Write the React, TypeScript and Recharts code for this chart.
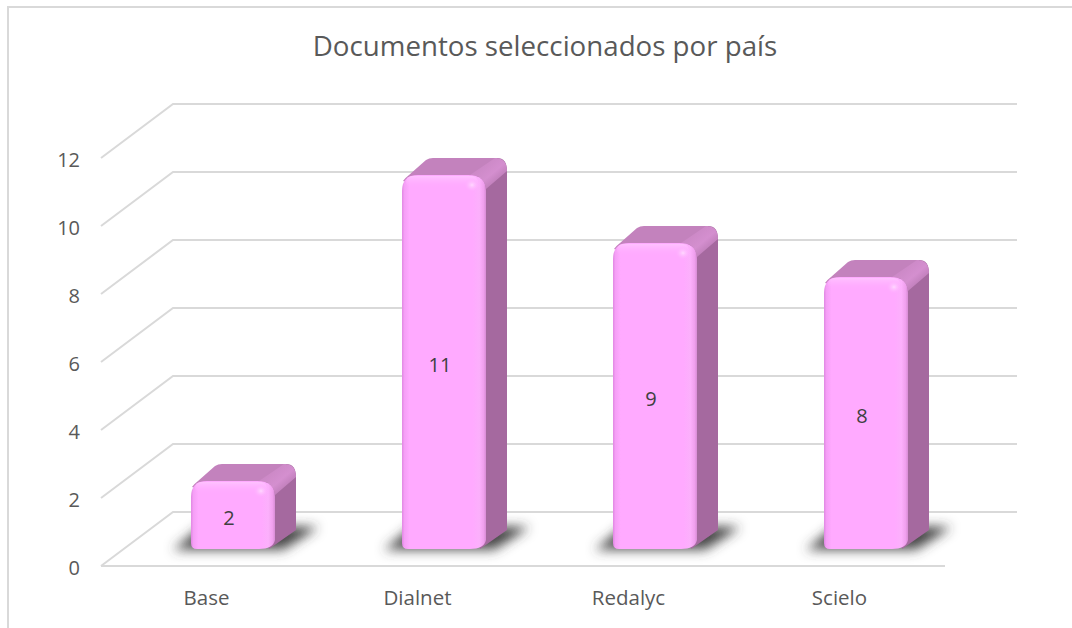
import React from 'react';
import { BarChart, Bar, XAxis, YAxis, CartesianGrid, LabelList } from 'recharts';

const categories = ['Base', 'Dialnet', 'Redalyc', 'Scielo'];
const documentos = [2, 11, 9, 8];
const yTicks = [0, 2, 4, 6, 8, 10, 12];

const data = categories.map((name, i) => ({ name, documentos: documentos[i] }));

const FONT = '"Open Sans", sans-serif';
const TEXT = '#595959';
const GRID = '#d9d9d9';

// pseudo-3D offsets
const WALL_DX = 72;
const WALL_DY = 54;
const BAR_SHIFT_X = 25;
const BAR_SHIFT_Y = 17;
const DEPTH_X = 23;
const DEPTH_Y = 17;

function GridLine(props: any) {
    const { x1, x2, y1, index } = props;
    const wall = `M${x1},${y1}L${x1 + WALL_DX},${y1 - WALL_DY}L${x2 + WALL_DX},${y1 - WALL_DY}`;
    return (
        <g key={`grid-${index}`}>
            <path d={wall} fill="none" stroke={GRID} strokeWidth={2} />
            {y1 > 560 && <line x1={x1} x2={x2} y1={y1} y2={y1} stroke={GRID} strokeWidth={2} />}
        </g>
    );
}

function Bar3D(props: any) {
    const { x, y, width, height } = props;
    const l = x + BAR_SHIFT_X;
    const r = l + width;
    const t = y - BAR_SHIFT_Y;
    const b = y + height - BAR_SHIFT_Y;
    const dx = DEPTH_X;
    const dy = DEPTH_Y;
    const rad = 16;
    const shadow = `M${l - 18},${b + 1}L${l + 10},${b - 22}L${r + dx + 22},${b - 22}L${r + 10},${b + 1}Z`;
    const side = `M${r - 10},${t}L${r - 10 + dx},${t - dy}Q${r + dx},${t - dy} ${r + dx},${t - dy + 13}L${r + dx},${b - dy - 2}L${r - 4},${b}Z`;
    const top = `M${l + 1},${t + 6}Q${l + 3},${t + 3} ${l + 7},${t}L${l + 24},${t - dy + 2}Q${l + 27},${t - dy} ${l + 31},${t - dy}L${r + dx - 10},${t - dy}L${r - 10},${t + 4}L${l + 8},${t + 8}Z`;
    const bevel = `M${r - 14},${t}L${r - 12 + dx},${t - dy}Q${r + dx},${t - dy} ${r + dx},${t - dy + 13}L${r + 2},${t + 14}Q${r},${t} ${r - 14},${t}Z`;
    const front = `M${l},${t + rad}Q${l},${t} ${l + rad},${t}L${r - rad},${t}Q${r + 2},${t} ${r + 2},${t + rad}L${r + 2},${b - 9}Q${r},${b} ${r - 14},${b}L${l + 6},${b}Q${l},${b} ${l},${b - 6}Z`;
    return (
        <g>
            <path d={shadow} fill="url(#floorShadow)" filter="url(#shadowBlur)" />
            <path d={side} fill="#a5699f" />
            <path d={top} fill="#c382bd" />
            <path d={bevel} fill="url(#bevelFill)" />
            <path d={front} fill="url(#frontFill)" />
            <rect x={l + 4} y={t + 1} width={width - 10} height={12} rx={6} fill="url(#topGlow)" />
            <ellipse cx={r - 12} cy={t + 10} rx={8} ry={7} fill="url(#cornerGlow)" />
        </g>
    );
}

function BarValue(props: any) {
    const { x, y, width, height, value } = props;
    return (
        <text
            x={x + width / 2 + BAR_SHIFT_X - 3}
            y={y + height / 2 - BAR_SHIFT_Y + 2}
            textAnchor="middle"
            dominantBaseline="central"
            fontFamily={FONT}
            fontSize={20}
            fill="#404040"
        >
            {value}
        </text>
    );
}

export default function App() {
    return (
        <div style={{ position: 'absolute', left: 0, top: 0, width: 1072, height: 628, background: '#fff', overflow: 'hidden' }}>
            <div style={{ position: 'absolute', left: 7, top: 6, width: 1065, height: 622, borderLeft: `2px solid ${GRID}`, borderTop: `2px solid ${GRID}` }} />
            <div style={{ position: 'absolute', left: 0, top: 27, width: 1090, textAlign: 'center', fontFamily: FONT, fontSize: 27.7, lineHeight: '36px', color: TEXT }}>
                Documentos seleccionados por país
            </div>
            <BarChart
                width={1072}
                height={628}
                data={data}
                margin={{ top: 158, right: 127, bottom: 0, left: 41 }}
                style={{ position: 'absolute', left: 0, top: 0 }}
            >
                <defs>
                    <filter id="shadowBlur" x="-25%" y="-60%" width="150%" height="220%">
                        <feGaussianBlur stdDeviation="6" />
                    </filter>
                    <linearGradient id="floorShadow" x1="0" y1="0" x2="0" y2="1">
                        <stop offset="0%" stopColor="#333" stopOpacity={1} />
                        <stop offset="100%" stopColor="#444" stopOpacity={0.9} />
                    </linearGradient>
                    <linearGradient id="frontFill" x1="0" y1="0" x2="1" y2="0">
                        <stop offset="0%" stopColor="#e088e2" />
                        <stop offset="3%" stopColor="#f59ff6" />
                        <stop offset="9%" stopColor="#ffaaff" />
                        <stop offset="84%" stopColor="#ffaaff" />
                        <stop offset="92%" stopColor="#fcb0fc" />
                        <stop offset="97%" stopColor="#f0a0ee" />
                        <stop offset="100%" stopColor="#d88cd5" />
                    </linearGradient>
                    <linearGradient id="bevelFill" x1="0" y1="0" x2="1" y2="1">
                        <stop offset="0%" stopColor="#c382bd" />
                        <stop offset="55%" stopColor="#d48fcf" />
                        <stop offset="100%" stopColor="#a5699f" />
                    </linearGradient>
                    <linearGradient id="topGlow" x1="0" y1="0" x2="0" y2="1">
                        <stop offset="0%" stopColor="#ffc4ff" stopOpacity={0.9} />
                        <stop offset="100%" stopColor="#ffaaff" stopOpacity={0} />
                    </linearGradient>
                    <radialGradient id="cornerGlow">
                        <stop offset="0%" stopColor="#ffd8ff" />
                        <stop offset="100%" stopColor="#ffaaff" stopOpacity={0} />
                    </radialGradient>
                </defs>
                <CartesianGrid vertical={false} horizontal={GridLine as any} />
                <XAxis
                    dataKey="name"
                    height={62}
                    axisLine={false}
                    tickLine={false}
                    tickMargin={18}
                    tick={{ fontFamily: FONT, fontSize: 20.5, fill: TEXT }}
                />
                <YAxis
                    width={60}
                    domain={[0, 12]}
                    ticks={yTicks}
                    axisLine={false}
                    tickLine={false}
                    tickMargin={15}
                    tick={{ fontFamily: FONT, fontSize: 20, fill: TEXT, dy: 2 }}
                />
                <Bar dataKey="documentos" barSize={82} shape={Bar3D} isAnimationActive={false}>
                    <LabelList dataKey="documentos" content={BarValue} />
                </Bar>
            </BarChart>
        </div>
    );
}
